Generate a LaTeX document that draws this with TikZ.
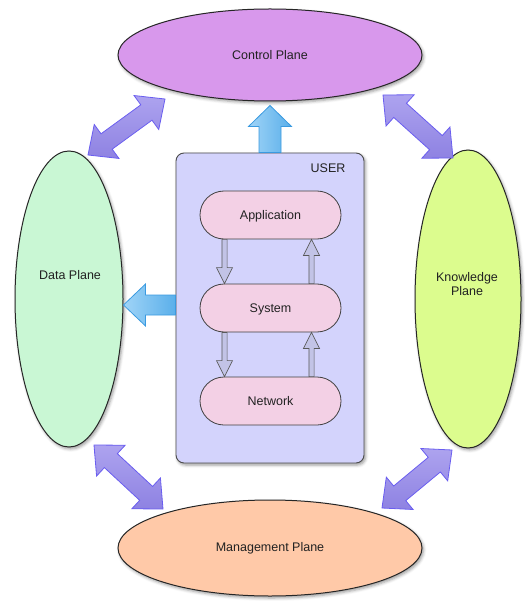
\documentclass[tikz,border=0pt]{standalone}
\usepackage{fontspec}
\setmainfont{Liberation Sans}
\usetikzlibrary{shapes.geometric,calc,shadows.blur}
\definecolor{cpC}{HTML}{D898EC}
\definecolor{dpC}{HTML}{C9F7D4}
\definecolor{kpC}{HTML}{DCFC8E}
\definecolor{mpC}{HTML}{FFC9A8}
\definecolor{userC}{HTML}{D3D3FC}
\definecolor{layerC}{HTML}{F3D0E5}
\definecolor{dblTop}{HTML}{ADA3EF}
\definecolor{dblBot}{HTML}{8E82E2}
\definecolor{dblLine}{HTML}{6A5EF0}
\definecolor{blueL}{HTML}{A0D4F7}
\definecolor{blueD}{HTML}{5AAFEA}
\definecolor{blueLine}{HTML}{3A9AE0}
\definecolor{smallC}{HTML}{C2C3E6}
\definecolor{txtC}{HTML}{222222}
% double arrow between two named coordinates
\newcommand\dblarr[2]{%
  \draw[dblstyle] (#1)
   -- ($(#1)!23pt!(#2)!21pt!90:(#2)$)
   -- ($(#1)!23pt!(#2)!9.5pt!90:(#2)$)
   -- ($(#2)!23pt!(#1)!9.5pt!-90:(#1)$)
   -- ($(#2)!23pt!(#1)!21pt!-90:(#1)$)
   -- (#2)
   -- ($(#2)!23pt!(#1)!21pt!90:(#1)$)
   -- ($(#2)!23pt!(#1)!9.5pt!90:(#1)$)
   -- ($(#1)!23pt!(#2)!9.5pt!-90:(#2)$)
   -- ($(#1)!23pt!(#2)!21pt!-90:(#2)$)
   -- cycle;}
% single arrow: style, start, tip, shaft half width, head half width, head length
\newcommand\sarr[6]{%
  \draw[#1] ($(#2)!#4!90:(#3)$)
   -- ($(#3)!#6!(#2)!#4!-90:(#2)$)
   -- ($(#3)!#6!(#2)!#5!-90:(#2)$)
   -- (#3)
   -- ($(#3)!#6!(#2)!#5!90:(#2)$)
   -- ($(#3)!#6!(#2)!#4!90:(#2)$)
   -- ($(#2)!#4!-90:(#3)$)
   -- cycle;}
\begin{document}
\begin{tikzpicture}[x=1pt,y=-1pt,
  lbl/.style={font=\fontsize{12.5}{14}\selectfont, text=txtC, inner sep=0pt},
  softshadow/.style={blur shadow={shadow xshift=1.5pt, shadow yshift=-2pt, shadow blur radius=3pt, shadow opacity=40}},
  plane/.style={ellipse, draw=black!85, line width=1pt, inner sep=0pt, softshadow, lbl},
  userbox/.style={draw=black!70, line width=0.9pt, fill=userC, rounded corners=8pt, softshadow},
  layer/.style={draw=black!75, line width=0.8pt, fill=layerC, rounded corners=24pt,
     minimum width=141pt, minimum height=48pt, inner sep=0pt, lbl, text depth=0pt},
  dblstyle/.style={draw=dblLine, line width=0.8pt, top color=dblTop, bottom color=dblBot, line join=miter},
  bluearr/.style={draw=blueLine, line width=0.8pt, left color=blueL, right color=blueD, line join=miter},
  smallarr/.style={draw=black!65, line width=0.7pt, fill=smallC, line join=miter}]
\useasboundingbox (0,0) rectangle (524,601);

% planes
\node[plane, fill=cpC, minimum width=304pt, minimum height=92pt] (cp) at (270,55) {Control Plane};
\node[plane, fill=dpC, minimum width=108pt, minimum height=296pt] (dp) at (69,299) {};
\node[lbl] (dpt) at (70,275) {Data Plane};
\node[plane, fill=kpC, minimum width=106pt, minimum height=298pt] (kp) at (468,299) {};
\node[lbl, align=center] (kpt) at (467,284) {Knowledge\\Plane};
\node[plane, fill=mpC, minimum width=304pt, minimum height=96pt] (mp) at (270,548) {Management Plane};

% user box
\node[userbox, minimum width=188pt, minimum height=310pt, inner sep=0pt] (user) at (270,308) {};
\node[lbl] (usert) at (328,168) {USER};

% layers
\node[layer] (app) at (270.5,215) {Application};
\node[layer] (sys) at (270.5,308) {System};
\node[layer] (net) at (270.5,401) {Network};

% small arrows between layers
\coordinate (d1s) at ($(app.south)+(-46,0)$);
\coordinate (d1e) at ($(sys.north)+(-46,0)$);
\coordinate (u1s) at ($(sys.north)+(41,0)$);
\coordinate (u1e) at ($(app.south)+(41,0)$);
\coordinate (d2s) at ($(sys.south)+(-46,0)$);
\coordinate (d2e) at ($(net.north)+(-46,0)$);
\coordinate (u2s) at ($(net.north)+(41,0)$);
\coordinate (u2e) at ($(sys.south)+(41,0)$);
\sarr{smallarr}{d1s}{d1e}{2.6pt}{8pt}{16pt}
\sarr{smallarr}{u1s}{u1e}{2.6pt}{8pt}{16pt}
\sarr{smallarr}{d2s}{d2e}{2.6pt}{8pt}{16pt}
\sarr{smallarr}{u2s}{u2e}{2.6pt}{8pt}{16pt}

% blue arrows out of the user box
\coordinate (upS) at (user.north);
\coordinate (upT) at ($(cp.south)+(0,4)$);
\coordinate (lfS) at ($(user.west)+(0,-3)$);
\coordinate (lfT) at ($(dp.east)+(0,6)$);
\sarr{bluearr}{upS}{upT}{11pt}{21.5pt}{21pt}
\sarr{bluearr}{lfS}{lfT}{10pt}{21pt}{22pt}

% double arrows between planes
\coordinate (a1) at (88,155);  \coordinate (b1) at (165,99);
\coordinate (a2) at (383,95);  \coordinate (b2) at (453,158);
\coordinate (a3) at (94,445);  \coordinate (b3) at (163,509);
\coordinate (a4) at (382,508); \coordinate (b4) at (452,450);
\dblarr{a1}{b1}
\dblarr{a2}{b2}
\dblarr{a3}{b3}
\dblarr{a4}{b4}
\end{tikzpicture}
\end{document}
